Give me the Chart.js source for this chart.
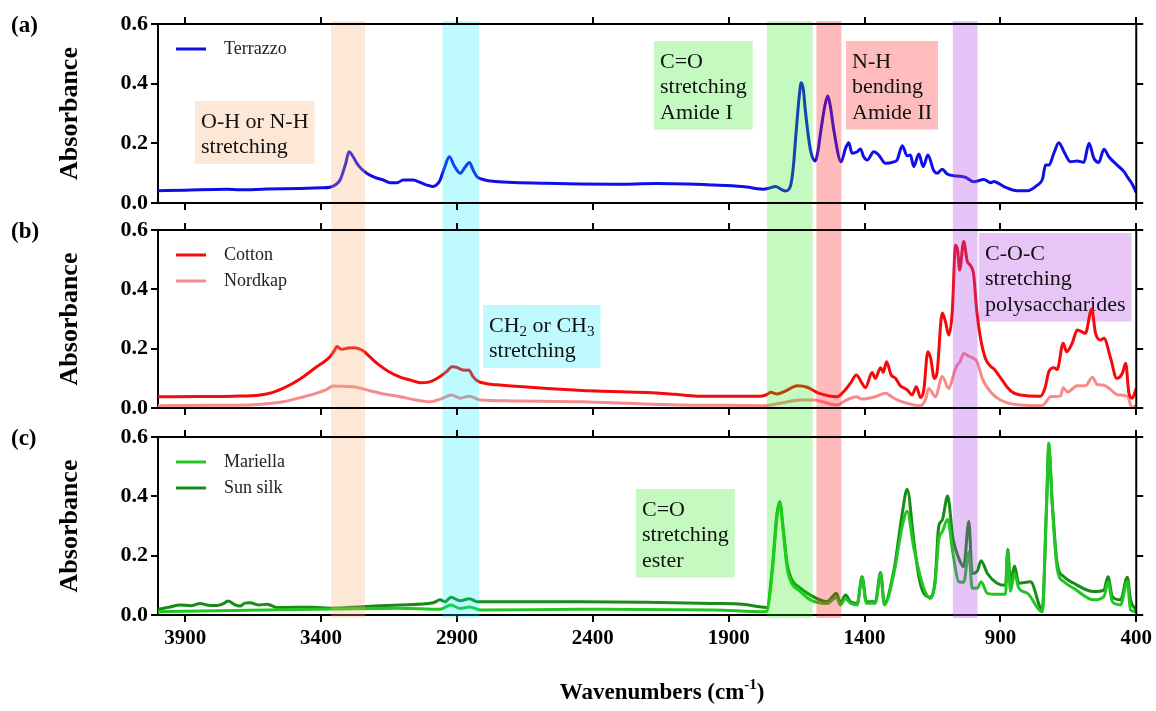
<!DOCTYPE html>
<html>
<head>
<meta charset="utf-8">
<script src="https://cdn.jsdelivr.net/npm/chart.js@4.4.1/dist/chart.umd.min.js"></script>
<style>
  html, body { margin: 0; padding: 0; background: #fff; }
  #wrap { width: 1156px; height: 711px; }
</style>
</head>
<body>
<div id="wrap"><canvas id="ftir" width="1156" height="711"></canvas></div>
<script>
const SERIF = "'Liberation Serif', 'Times New Roman', serif";

// x ticks (cm-1)
const wnTicks = [3900, 3400, 2900, 2400, 1900, 1400, 900, 400];

// spectra, [wavenumber, absorbance]
const terrazzo = [[4000,0.041],[3900,0.043],[3746,0.046],[3700,0.044],[3600,0.047],[3477,0.049],[3400,0.051],[3367,0.053],[3345,0.062],[3330,0.077],[3310,0.13],[3297,0.172],[3285,0.16],[3268,0.133],[3250,0.113],[3232,0.100],[3200,0.085],[3171,0.077],[3146,0.068],[3120,0.068],[3098,0.077],[3061,0.077],[3035,0.069],[3010,0.06],[2987,0.055],[2970,0.065],[2962,0.077],[2945,0.12],[2928,0.155],[2910,0.125],[2888,0.100],[2870,0.12],[2854,0.136],[2840,0.11],[2826,0.088],[2800,0.078],[2777,0.074],[2569,0.066],[2325,0.063],[2164,0.065],[1956,0.060],[1850,0.055],[1783,0.047],[1772,0.046],[1750,0.05],[1728,0.055],[1705,0.045],[1691,0.040],[1673,0.055],[1662,0.12],[1654,0.211],[1640,0.36],[1633,0.403],[1625,0.38],[1618,0.312],[1599,0.178],[1581,0.141],[1572,0.17],[1562,0.234],[1545,0.33],[1535,0.359],[1525,0.32],[1513,0.245],[1486,0.138],[1470,0.183],[1458,0.202],[1446,0.167],[1427,0.172],[1415,0.181],[1403,0.155],[1390,0.144],[1366,0.172],[1348,0.161],[1323,0.133],[1292,0.138],[1280,0.144],[1261,0.192],[1243,0.158],[1231,0.161],[1219,0.122],[1200,0.164],[1184,0.122],[1167,0.161],[1145,0.108],[1133,0.0995],[1114,0.113],[1096,0.097],[1059,0.0905],[1028,0.086],[998,0.071],[961,0.079],[936,0.068],[924,0.072],[887,0.055],[838,0.041],[801,0.041],[764,0.060],[745,0.08],[734,0.127],[722,0.127],[703,0.167],[685,0.202],[666,0.172],[642,0.138],[617,0.141],[593,0.136],[574,0.200],[556,0.150],[538,0.136],[519,0.180],[501,0.155],[470,0.127],[445,0.105],[433,0.088],[415,0.064],[400,0.035]];

const cotton = [[4000,0.038],[3850,0.039],[3724,0.040],[3624,0.044],[3580,0.052],[3540,0.066],[3477,0.098],[3416,0.139],[3390,0.155],[3367,0.173],[3350,0.195],[3342,0.207],[3330,0.200],[3324,0.198],[3300,0.202],[3281,0.203],[3262,0.200],[3244,0.192],[3220,0.172],[3195,0.151],[3150,0.122],[3109,0.104],[3070,0.094],[3035,0.085],[3000,0.088],[2962,0.106],[2935,0.125],[2919,0.139],[2900,0.137],[2888,0.131],[2870,0.127],[2857,0.128],[2840,0.105],[2826,0.092],[2790,0.082],[2753,0.078],[2569,0.066],[2385,0.057],[2200,0.052],[2100,0.046],[2016,0.040],[1900,0.040],[1783,0.040],[1760,0.045],[1746,0.053],[1722,0.047],[1690,0.058],[1660,0.072],[1648,0.075],[1611,0.070],[1569,0.050],[1501,0.038],[1482,0.050],[1452,0.083],[1430,0.111],[1409,0.083],[1397,0.068],[1372,0.120],[1360,0.100],[1341,0.136],[1331,0.120],[1319,0.156],[1302,0.111],[1286,0.100],[1268,0.075],[1243,0.061],[1225,0.044],[1209,0.072],[1194,0.035],[1182,0.060],[1167,0.190],[1157,0.170],[1143,0.100],[1133,0.120],[1114,0.320],[1102,0.291],[1090,0.246],[1077,0.325],[1065,0.549],[1057,0.530],[1050,0.465],[1035,0.561],[1022,0.495],[1010,0.480],[998,0.448],[988,0.336],[973,0.235],[955,0.167],[935,0.140],[924,0.132],[906,0.110],[890,0.09],[875,0.070],[850,0.050],[826,0.044],[752,0.040],[735,0.07],[722,0.122],[703,0.136],[691,0.130],[669,0.218],[656,0.190],[636,0.218],[617,0.263],[587,0.252],[564,0.334],[550,0.252],[531,0.229],[519,0.235],[494,0.167],[472,0.100],[451,0.117],[439,0.151],[427,0.050],[415,0.033],[400,0.065]];

const nordkap = [[4000,0.008],[3800,0.009],[3661,0.010],[3600,0.014],[3540,0.021],[3480,0.034],[3416,0.050],[3380,0.062],[3356,0.074],[3320,0.073],[3281,0.072],[3232,0.061],[3182,0.050],[3109,0.038],[3050,0.027],[2998,0.021],[2960,0.030],[2919,0.044],[2888,0.033],[2854,0.040],[2814,0.027],[2700,0.024],[2446,0.021],[2078,0.010],[1900,0.009],[1772,0.008],[1710,0.016],[1636,0.027],[1588,0.027],[1501,0.010],[1470,0.025],[1430,0.038],[1409,0.030],[1360,0.038],[1323,0.050],[1300,0.038],[1280,0.027],[1219,0.010],[1194,0.008],[1175,0.03],[1164,0.066],[1139,0.038],[1114,0.106],[1090,0.066],[1070,0.12],[1059,0.145],[1049,0.155],[1035,0.184],[1016,0.175],[998,0.167],[985,0.155],[967,0.100],[936,0.054],[900,0.027],[826,0.010],[746,0.008],[715,0.038],[679,0.040],[669,0.068],[653,0.054],[617,0.075],[587,0.075],[561,0.104],[544,0.079],[519,0.077],[494,0.062],[470,0.045],[433,0.040],[415,0.000],[400,0.010]];

const mariella = [[4000,0.011],[3724,0.015],[3356,0.020],[3109,0.023],[2962,0.019],[2922,0.034],[2888,0.022],[2854,0.027],[2814,0.017],[2446,0.019],[1956,0.017],[1772,0.011],[1759,0.013],[1740,0.140],[1722,0.330],[1712,0.378],[1700,0.290],[1685,0.160],[1667,0.105],[1642,0.084],[1599,0.051],[1538,0.039],[1503,0.060],[1489,0.034],[1470,0.055],[1452,0.040],[1427,0.034],[1409,0.125],[1393,0.040],[1360,0.040],[1341,0.140],[1327,0.034],[1292,0.140],[1261,0.300],[1243,0.350],[1219,0.228],[1182,0.090],[1157,0.056],[1140,0.11],[1127,0.253],[1114,0.280],[1094,0.323],[1075,0.21],[1053,0.112],[1035,0.110],[1016,0.213],[1004,0.090],[985,0.090],[971,0.112],[948,0.073],[912,0.070],[881,0.070],[873,0.215],[863,0.080],[848,0.140],[832,0.090],[800,0.073],[746,0.011],[730,0.370],[722,0.579],[709,0.370],[691,0.157],[666,0.112],[630,0.090],[556,0.051],[519,0.062],[504,0.112],[488,0.045],[458,0.034],[433,0.112],[421,0.017],[400,0.011]];

const sunSilk = [[4000,0.019],[3960,0.026],[3919,0.034],[3880,0.031],[3845,0.039],[3815,0.033],[3783,0.032],[3760,0.038],[3742,0.047],[3720,0.036],[3698,0.030],[3680,0.040],[3661,0.041],[3630,0.034],[3599,0.036],[3580,0.031],[3562,0.025],[3500,0.026],[3429,0.026],[3367,0.023],[3250,0.028],[3109,0.034],[2987,0.041],[2962,0.051],[2944,0.045],[2922,0.060],[2888,0.048],[2854,0.055],[2826,0.045],[2446,0.045],[2200,0.043],[1956,0.039],[1850,0.036],[1772,0.026],[1759,0.025],[1740,0.152],[1722,0.343],[1712,0.382],[1700,0.298],[1685,0.174],[1667,0.118],[1642,0.095],[1599,0.067],[1538,0.045],[1503,0.073],[1489,0.040],[1470,0.067],[1452,0.045],[1427,0.039],[1409,0.129],[1393,0.045],[1360,0.045],[1341,0.143],[1327,0.039],[1292,0.150],[1261,0.343],[1243,0.424],[1219,0.253],[1200,0.129],[1182,0.073],[1157,0.060],[1140,0.12],[1127,0.298],[1114,0.320],[1094,0.401],[1075,0.26],[1053,0.191],[1035,0.163],[1016,0.315],[1004,0.140],[985,0.148],[971,0.183],[948,0.140],[912,0.107],[881,0.100],[873,0.221],[863,0.112],[848,0.165],[832,0.107],[789,0.112],[746,0.017],[730,0.376],[722,0.560],[709,0.376],[691,0.174],[666,0.129],[630,0.107],[556,0.079],[519,0.084],[504,0.129],[488,0.062],[458,0.051],[433,0.127],[421,0.051],[400,0.017]];

// assignment bands (cm-1)
const bandFrom = [3363, 2953, 1759, 1577, 1075];
const bandTo = [3238, 2818, 1591, 1485, 984];
const bandColors = ['rgba(247,170,110,0.28)', 'rgba(0,235,255,0.25)', 'rgba(20,235,0,0.25)', 'rgba(255,30,30,0.3)', 'rgba(175,60,230,0.3)'];

// text boxes, anchored at top-left in data units
const notes = [
    { panel: 'yA', wn: 3864, abs: 0.342, fill: '#fde7d6', lines: ['O-H or N-H', 'stretching'] },
    { panel: 'yA', wn: 2174, abs: 0.543, fill: '#c4fabf', lines: ['C=O', 'stretching', 'Amide I'] },
    { panel: 'yA', wn: 1467, abs: 0.543, fill: '#ffbcbc', lines: ['N-H', 'bending', 'Amide II'] },
    { panel: 'yB', wn: 2803, abs: 0.347, fill: '#bffaff', lines: ['CH_2 or CH_3', 'stretching'] },
    { panel: 'yB', wn: 977, abs: 0.590, fill: '#e7c5f7', lines: ['C-O-C', 'stretching', 'polysaccharides'] },
    { panel: 'yC', wn: 2240, abs: 0.425, fill: '#c4fabf', lines: ['C=O', 'stretching', 'ester'] }
];

const panelLetters = { yA: '(a)', yB: '(b)', yC: '(c)' };

function pts(arr) { return arr.map(p => ({ x: p[0], y: p[1] })); }

function line(label, arr, color, axis) {
    return { label: label, data: pts(arr), yAxisID: axis, borderColor: color, backgroundColor: color,
        borderWidth: 3, pointRadius: 0, cubicInterpolationMode: 'monotone', fill: false };
}

function panelAxis(weight, order) {
    return {
        type: 'linear', position: 'left', stack: 'left', stackWeight: weight, weight: order,
        min: 0, max: 0.6,
        ticks: { stepSize: 0.2, color: '#000', padding: 3, font: { family: SERIF, size: 22, weight: 'bold' }, callback: v => Number(v).toFixed(1) },
        grid: { drawOnChartArea: false, drawTicks: true, tickLength: 7, color: '#000', lineWidth: 2 },
        border: { display: true, color: '#000', width: 2 },
        title: { display: true, text: 'Absorbance', color: '#000', font: { family: SERIF, size: 26, weight: 'bold' }, padding: { top: 55, bottom: 0 } },
        afterFit: s => { s.width = 158; }
    };
}
function gapAxis(weight, order) {
    return { type: 'linear', display: false, position: 'left', stack: 'left', stackWeight: weight, weight: order };
}

function richParts(text) {
    // "_2" -> subscript 2
    return text.split(/_(\d)/).map((t, i) => ({ t: t, sub: i % 2 === 1 }));
}
function richWidth(ctx, text) {
    let w = 0;
    richParts(text).forEach(p => { ctx.font = (p.sub ? '15px ' : '22px ') + SERIF; w += ctx.measureText(p.t).width; });
    return w;
}
function richDraw(ctx, text, x, y) {
    richParts(text).forEach(p => {
        ctx.font = (p.sub ? '15px ' : '22px ') + SERIF;
        ctx.fillText(p.t, x, p.sub ? y + 6 : y);
        x += ctx.measureText(p.t).width;
    });
}

const decor = {
    id: 'decor',
    beforeDatasetsDraw(chart) {
        const ctx = chart.ctx, x = chart.scales.x;
        ctx.save();
        ctx.textBaseline = 'middle';
        ctx.textAlign = 'left';
        notes.forEach(n => {
            const s = chart.scales[n.panel];
            const left = Math.round(x.getPixelForValue(n.wn));
            const top = Math.round(s.getPixelForValue(n.abs));
            const w = Math.max(...n.lines.map(t => richWidth(ctx, t))) + 12;
            const h = 12 + 25.5 * n.lines.length;
            ctx.fillStyle = n.fill;
            ctx.fillRect(left, top, w, h);
            ctx.fillStyle = '#111';
            n.lines.forEach((t, i) => richDraw(ctx, t, left + 6, top + 21 + 25.5 * i));
        });
        ctx.restore();
    },
    afterDatasetsDraw(chart) {
        const ctx = chart.ctx, x = chart.scales.x;
        const top = chart.scales.yA.top - 3, bottom = chart.scales.yC.bottom + 3;
        ctx.save();
        bandFrom.forEach((f, i) => {
            const a = x.getPixelForValue(f), b = x.getPixelForValue(bandTo[i]);
            ctx.fillStyle = bandColors[i];
            ctx.fillRect(a, top, b - a, bottom - top);
        });
        // panel frames with outward ticks on top / bottom / right
        const L = chart.chartArea.left, R = chart.chartArea.right;
        ctx.strokeStyle = '#000';
        ctx.lineWidth = 2;
        ['yA', 'yB', 'yC'].forEach(id => {
            const s = chart.scales[id];
            const t = Math.round(s.top), b = Math.round(s.bottom);
            ctx.beginPath();
            ctx.moveTo(L - 1, t); ctx.lineTo(R + 1, t);
            ctx.moveTo(R, t); ctx.lineTo(R, b);
            if (id !== 'yC') { ctx.moveTo(L - 1, b); ctx.lineTo(R + 1, b); }
            wnTicks.forEach(v => {
                const px = Math.round(x.getPixelForValue(v));
                ctx.moveTo(px, t); ctx.lineTo(px, t - 7);
                if (id !== 'yC') { ctx.moveTo(px, b); ctx.lineTo(px, b + 7); }
            });
            s.ticks.forEach(tk => {
                const py = Math.round(s.getPixelForValue(tk.value));
                ctx.moveTo(R, py); ctx.lineTo(R + 7, py);
            });
            ctx.stroke();
        });
        ctx.restore();
    },
    afterDraw(chart) {
        const ctx = chart.ctx, L = chart.chartArea.left;
        ctx.save();
        ctx.textBaseline = 'middle';
        // legends inside each panel
        const count = {};
        chart.data.datasets.forEach(ds => {
            const s = chart.scales[ds.yAxisID];
            const i = count[ds.yAxisID] || 0;
            count[ds.yAxisID] = i + 1;
            const y = Math.round(s.top + 25 + 26 * i);
            ctx.strokeStyle = ds.borderColor;
            ctx.lineWidth = 3;
            ctx.beginPath();
            ctx.moveTo(L + 18, y); ctx.lineTo(L + 48, y);
            ctx.stroke();
            ctx.fillStyle = '#222';
            ctx.font = '18px ' + SERIF;
            ctx.textAlign = 'left';
            ctx.fillText(ds.label, L + 66, y);
        });
        // panel letters
        ctx.fillStyle = '#000';
        ctx.font = 'bold 23px ' + SERIF;
        Object.keys(panelLetters).forEach(id => ctx.fillText(panelLetters[id], 11, chart.scales[id].top + 2));
        // x title with superscript
        const main = 'Wavenumbers (cm', sup = '-1', end = ')';
        ctx.font = 'bold 23px ' + SERIF;
        const w1 = ctx.measureText(main).width, w3 = ctx.measureText(end).width;
        ctx.font = 'bold 15px ' + SERIF;
        const w2 = ctx.measureText(sup).width;
        let tx = (chart.chartArea.left + chart.chartArea.right) / 2 + 15 - (w1 + w2 + w3) / 2;
        const ty = 693;
        ctx.font = 'bold 23px ' + SERIF;
        ctx.fillText(main, tx, ty);
        ctx.font = 'bold 15px ' + SERIF;
        ctx.fillText(sup, tx + w1, ty - 8);
        ctx.font = 'bold 23px ' + SERIF;
        ctx.fillText(end, tx + w1 + w2, ty);
        ctx.restore();
    }
};

new Chart(document.getElementById('ftir'), {
    type: 'line',
    data: {
        datasets: [
            line('Terrazzo', terrazzo, '#0f0fe8', 'yA'),
            line('Cotton', cotton, '#f40a0a', 'yB'),
            line('Nordkap', nordkap, '#f78a8a', 'yB'),
            line('Mariella', mariella, '#22c622', 'yC'),
            line('Sun silk', sunSilk, '#168c16', 'yC')
        ]
    },
    options: {
        responsive: false,
        animation: false,
        devicePixelRatio: 1,
        layout: { padding: { left: 0, right: 19, top: 24, bottom: 0 } },
        plugins: { legend: { display: false }, tooltip: { enabled: false } },
        scales: {
            x: {
                type: 'linear', position: 'bottom', reverse: true, min: 400, max: 4000,
                afterBuildTicks: s => { s.ticks = wnTicks.map(v => ({ value: v })); },
                ticks: { autoSkip: false, maxRotation: 0, color: '#000', padding: 4, font: { family: SERIF, size: 21, weight: 'bold' }, callback: v => String(v) },
                grid: { drawOnChartArea: false, drawTicks: true, tickLength: 7, color: '#000', lineWidth: 2 },
                border: { display: true, color: '#000', width: 2 },
                afterFit: s => { s.height = 96; }
            },
            yA: panelAxis(179, 5),
            gap1: gapAxis(27, 4),
            yB: panelAxis(178, 3),
            gap2: gapAxis(29, 2),
            yC: panelAxis(178, 1)
        }
    },
    plugins: [decor]
});
</script>
</body>
</html>
